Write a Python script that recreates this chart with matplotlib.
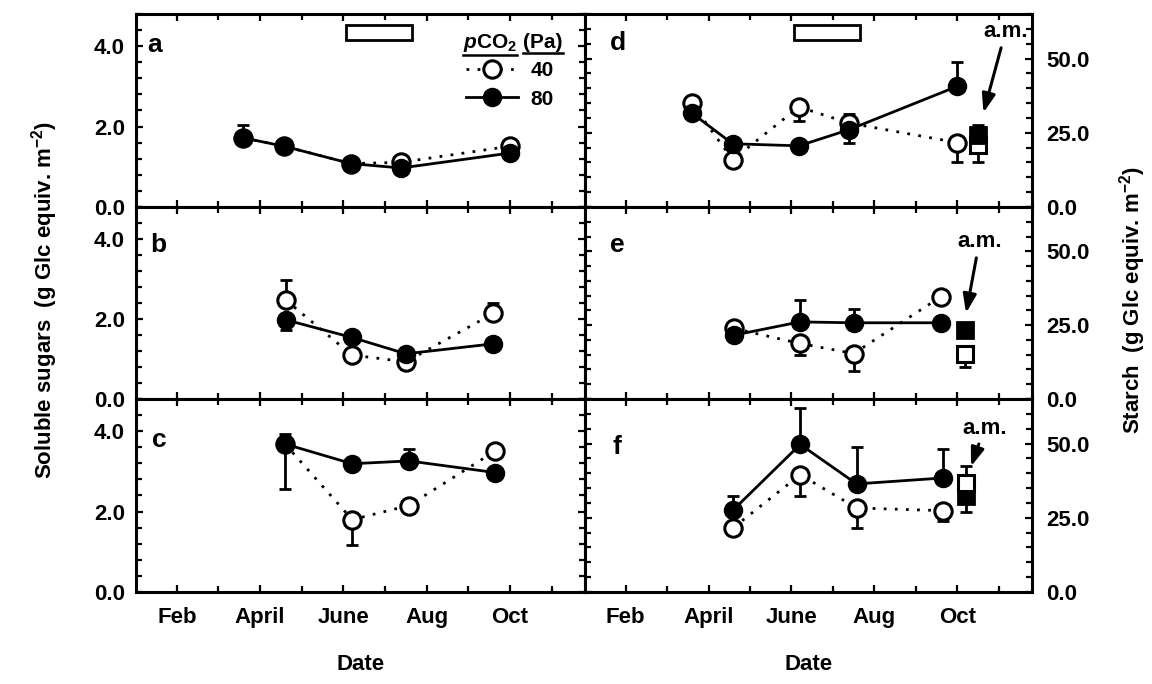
import numpy as np
import matplotlib

matplotlib.use("Agg")
import matplotlib.pyplot as plt
from matplotlib.lines import Line2D
from matplotlib.patches import Rectangle
from matplotlib.ticker import FixedLocator, MultipleLocator, FormatStrFormatter
from matplotlib.transforms import blended_transform_factory

plt.rcParams.update({
    "font.family": ["Liberation Sans", "DejaVu Sans"],
    "font.weight": "bold",
    "mathtext.fontset": "custom",
    "mathtext.rm": "Liberation Sans:bold",
    "mathtext.it": "Liberation Sans:italic:bold",
    "mathtext.bf": "Liberation Sans:bold",
    "axes.linewidth": 2.2,
})

# x axis: month number (Feb = 2)
month_ticks = [2, 4, 6, 8, 10]
month_labels = ["Feb", "April", "June", "Aug", "Oct"]
growing_season = (6.05, 7.65)

# ---- site 1: panels a (sugars) and d (starch)
date_ad = [3.59, 4.58, 6.18, 7.38, 9.99]
sug_a_40 = [1.72, 1.51, 1.08, 1.11, 1.51]
sug_a_40_lo = [0, 0, 0, 0, 0]
sug_a_40_hi = [0, 0, 0, 0, 0]
sug_a_80 = [1.72, 1.51, 1.08, 0.97, 1.34]
sug_a_80_lo = [0, 0, 0, 0, 0]
sug_a_80_hi = [0.33, 0, 0, 0, 0]

sta_d_40 = [35.0, 15.9, 33.7, 28.3, 21.7]
sta_d_40_lo = [0, 0, 4.9, 0, 6.4]
sta_d_40_hi = [0, 0, 0, 0, 0]
sta_d_80 = [31.7, 21.3, 20.6, 26.0, 40.6]
sta_d_80_lo = [0, 0, 0, 4.5, 0]
sta_d_80_hi = [0, 0, 0, 5.4, 8.3]

# ---- site 2: panels b and e
date_be = [4.61, 6.2, 7.5, 9.6]
sug_b_40 = [2.48, 1.10, 0.93, 2.14]
sug_b_40_lo = [0, 0, 0, 0]
sug_b_40_hi = [0.50, 0, 0, 0.25]
sug_b_80 = [1.98, 1.54, 1.13, 1.38]
sug_b_80_lo = [0.25, 0, 0, 0]
sug_b_80_hi = [0, 0, 0, 0]

sta_e_40 = [23.9, 18.8, 15.4, 34.6]
sta_e_40_lo = [0, 3.9, 5.8, 0]
sta_e_40_hi = [0, 0, 0, 0]
sta_e_80 = [21.6, 26.1, 25.8, 25.8]
sta_e_80_lo = [0, 0, 0, 0]
sta_e_80_hi = [0, 7.3, 4.5, 0]

# ---- site 3: panels c and f
date_cf = [4.6, 6.21, 7.57, 9.65]
sug_c_40 = [3.68, 1.80, 2.15, 3.51]
sug_c_40_lo = [1.11, 0.62, 0, 0.12]
sug_c_40_hi = [0, 0, 0, 0]
sug_c_80 = [3.68, 3.19, 3.26, 2.97]
sug_c_80_lo = [0, 0, 0, 0]
sug_c_80_hi = [0.26, 0, 0.29, 0]

sta_f_40 = [21.7, 39.5, 28.3, 27.4]
sta_f_40_lo = [0, 7.3, 6.6, 3.6]
sta_f_40_hi = [0, 0, 0, 0]
sta_f_80 = [27.7, 49.7, 36.4, 38.4]
sta_f_80_lo = [0, 0, 0, 0]
sta_f_80_hi = [4.5, 12.4, 12.4, 9.6]

# "a.m." starch samples in October (d, e, f): date, 40 Pa, 80 Pa (+ errors)
am_date = [10.50, 10.19, 10.21]
am_40 = [20.8, 15.4, 36.7]
am_40_lo = [5.8, 4.5, 0]
am_40_hi = [0, 0, 5.6]
am_80 = [24.3, 23.5, 32.2]
am_80_lo = [0, 0, 5.1]
am_80_hi = [3.4, 0, 0]

W, H = 1152, 684
fig = plt.figure(figsize=(W / 100, H / 100), dpi=100)

rows_px = [(14, 207), (207, 399), (399, 592)]
cols_px = [(136, 585), (585, 1032)]


def add_ax(col, row):
    (x0, x1), (y0, y1) = cols_px[col], rows_px[row]
    return fig.add_axes([x0 / W, 1 - y1 / H, (x1 - x0) / W, (y1 - y0) / H])


def errbars(ax, x, y, lo, hi, z=2.5):
    x, y, lo, hi = map(np.asarray, (x, y, lo, hi))
    m = (lo > 0) | (hi > 0)
    if m.any():
        ax.errorbar(x[m], y[m], yerr=[lo[m], hi[m]], fmt="none", ecolor="k",
                    elinewidth=2, capsize=4, capthick=2, zorder=z)


def series(ax, x, y40, lo40, hi40, y80, lo80, hi80):
    errbars(ax, x, y40, lo40, hi40)
    errbars(ax, x, y80, lo80, hi80)
    ax.plot(x, y40, ls=(0, (1, 3)), lw=2, color="k", marker="o", ms=12.5,
            mfc="white", mec="k", mew=2.2, zorder=3)
    ax.plot(x, y80, ls="-", lw=2, color="k", marker="o", ms=13,
            mfc="k", mec="k", zorder=4)


def style(ax, right, bottom):
    ax.set_xlim(1.02, 11.8)
    ax.xaxis.set_major_locator(FixedLocator(month_ticks))
    ax.xaxis.set_minor_locator(MultipleLocator(1))
    if bottom:
        ax.set_xticklabels(month_labels)
    else:
        ax.set_xticklabels([])
    if right:
        ax.set_ylim(0, 65)
        ax.yaxis.set_major_locator(MultipleLocator(25))
        ax.yaxis.set_minor_locator(MultipleLocator(5))
    else:
        ax.set_ylim(0, 4.8)
        ax.yaxis.set_major_locator(MultipleLocator(2))
        ax.yaxis.set_minor_locator(MultipleLocator(0.4))
    ax.yaxis.set_major_formatter(FormatStrFormatter("%.1f"))
    ax.tick_params(which="both", direction="in", top=True, bottom=True,
                   left=True, right=True, width=1.6, labelsize=16,
                   labelleft=not right, labelright=right)
    ax.tick_params(which="major", length=5)
    ax.tick_params(which="minor", length=4)
    ax.tick_params(axis="x", pad=11)
    ax.tick_params(axis="y", pad=10 if right else 8)
    for t in ax.get_xticklabels() + ax.get_yticklabels():
        t.set_fontweight("bold")


sugar_sets = [
    (date_ad, sug_a_40, sug_a_40_lo, sug_a_40_hi, sug_a_80, sug_a_80_lo, sug_a_80_hi),
    (date_be, sug_b_40, sug_b_40_lo, sug_b_40_hi, sug_b_80, sug_b_80_lo, sug_b_80_hi),
    (date_cf, sug_c_40, sug_c_40_lo, sug_c_40_hi, sug_c_80, sug_c_80_lo, sug_c_80_hi),
]
starch_sets = [
    (date_ad, sta_d_40, sta_d_40_lo, sta_d_40_hi, sta_d_80, sta_d_80_lo, sta_d_80_hi),
    (date_be, sta_e_40, sta_e_40_lo, sta_e_40_hi, sta_e_80, sta_e_80_lo, sta_e_80_hi),
    (date_cf, sta_f_40, sta_f_40_lo, sta_f_40_hi, sta_f_80, sta_f_80_lo, sta_f_80_hi),
]
left_letters = ["a", "b", "c"]
right_letters = ["d", "e", "f"]
left_letter_pos = [(0.042, 0.84), (0.049, 0.80), (0.051, 0.79)]
right_letter_pos = [(0.074, 0.85), (0.072, 0.80), (0.072, 0.75)]
# a.m. label / arrow-tip offsets from the open square (months, starch units)
am_text_off = [(0.66, 38.2), (0.34, 37.8), (0.44, 18.5)]
am_tip_off = [(0.13, 11.0), (0.02, 13.7), (0.12, 5.6)]

axes_left, axes_right = [], []
for r in range(3):
    axl = add_ax(0, r)
    series(axl, *sugar_sets[r])
    style(axl, right=False, bottom=(r == 2))
    axl.text(*left_letter_pos[r], left_letters[r], transform=axl.transAxes,
             fontsize=19, fontweight="bold", ha="center", va="center")
    axes_left.append(axl)

    axr = add_ax(1, r)
    series(axr, *starch_sets[r])
    errbars(axr, [am_date[r]], [am_40[r]], [am_40_lo[r]], [am_40_hi[r]])
    errbars(axr, [am_date[r]], [am_80[r]], [am_80_lo[r]], [am_80_hi[r]])
    axr.plot([am_date[r]], [am_80[r]], "s", ms=11, mfc="k", mec="k",
             mew=2, zorder=4)
    axr.plot([am_date[r]], [am_40[r]], "s", ms=11, mfc="white", mec="k",
             mew=2.2, zorder=5 if r == 2 else 3)
    style(axr, right=True, bottom=(r == 2))
    axr.text(*right_letter_pos[r], right_letters[r], transform=axr.transAxes,
             fontsize=19, fontweight="bold", ha="center", va="center")
    tip = (am_date[r] + am_tip_off[r][0], am_40[r] + am_tip_off[r][1])
    txt = (am_date[r] + am_text_off[r][0], am_40[r] + am_text_off[r][1])
    axr.annotate("a.m.", xy=tip, xytext=txt, ha="center", va="center",
                 fontsize=16, fontweight="bold",
                 arrowprops=dict(arrowstyle="-|>,head_length=0.7,head_width=0.25",
                                 lw=2.2, color="k", shrinkA=2, shrinkB=0),
                 zorder=6)
    axes_right.append(axr)

# growing-season bar on the top panels
for ax in (axes_left[0], axes_right[0]):
    tr = blended_transform_factory(ax.transData, ax.transAxes)
    ax.add_patch(Rectangle((growing_season[0], 0.865),
                           growing_season[1] - growing_season[0], 0.078,
                           transform=tr, fill=False, lw=2, ec="k", zorder=5))

# legend in panel a
ax = axes_left[0]
handles = [
    Line2D([], [], ls=(0, (1, 3)), lw=2, color="k", marker="o", ms=12.5,
           mfc="white", mec="k", mew=2.2),
    Line2D([], [], ls="-", lw=2, color="k", marker="o", ms=13, mfc="k"),
]
leg = ax.legend(handles, ["40", "80"], loc="upper left",
                bbox_to_anchor=(0.735, 0.755), frameon=False, fontsize=15,
                handlelength=2.5, handletextpad=0.6, labelspacing=0.45,
                borderpad=0, borderaxespad=0)
for t in leg.get_texts():
    t.set_fontweight("bold")
t1 = ax.text(0.849, 0.85, r"$\it{p}$CO$_2$", transform=ax.transAxes,
             ha="right", va="center", fontsize=15, fontweight="bold")
t2 = ax.text(0.862, 0.85, "(Pa)", transform=ax.transAxes,
             ha="left", va="center", fontsize=15, fontweight="bold")

fig.text(45 / W, 1 - 300 / H, r"Soluble sugars  (g Glc equiv. m$^{-2}$)",
         rotation=90, ha="center", va="center", fontsize=16, fontweight="bold")
fig.text(1133 / W, 1 - 300 / H, r"Starch  (g Glc equiv. m$^{-2}$)",
         rotation=90, ha="center", va="center", fontsize=16, fontweight="bold")
for col in range(2):
    x0, x1 = cols_px[col]
    fig.text((x0 + x1) / 2 / W, 1 - 665 / H, "Date", ha="center",
             va="center", fontsize=16, fontweight="bold")

# underline the legend heading
fig.canvas.draw()
inv = fig.transFigure.inverted()
for t in (t1, t2):
    bb = t.get_window_extent()
    (xa, ya), (xb, _) = inv.transform([(bb.x0, bb.y0 - 1), (bb.x1, bb.y0 - 1)])
    fig.add_artist(Line2D([xa, xb], [ya, ya], lw=1.8, color="k",
                          transform=fig.transFigure))

fig.savefig("out.png", dpi=100)
